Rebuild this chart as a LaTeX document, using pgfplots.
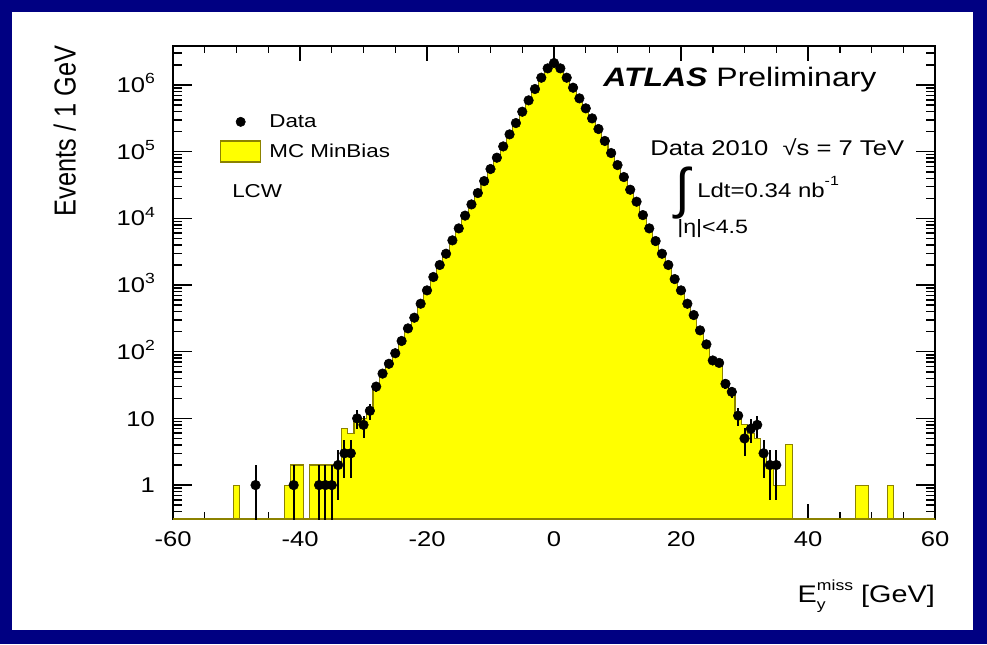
\documentclass[border=0pt]{standalone}
\usepackage{fontspec}
\setmainfont{Liberation Sans}[FakeStretch=1.2]
\newfontfamily\plainfont{Liberation Sans}
\usepackage{graphicx}
\usepackage{pgfplots}
\pgfplotsset{compat=1.18}
\usepackage{pgfplotstable}
\definecolor{navyb}{RGB}{0,0,130}
\definecolor{mcfill}{RGB}{255,255,0}
\definecolor{mcline}{RGB}{140,130,0}

% MC MinBias histogram: left bin edge, content (1e-3 = empty bin)
\pgfplotstableread{
x y
-60.5 1e-3
-50.5 1
-49.5 1e-3
-42.5 1
-41.5 2
-40.5 2
-39.5 1e-3
-38.5 2
-37.5 2
-36.5 2
-35.5 2
-34.5 2
-33.5 7
-32.5 6
-31.5 9
-30.5 10
-29.5 14
-28.5 30
-27.5 47
-26.5 66
-25.5 95
-24.5 145
-23.5 224
-22.5 324
-21.5 525
-20.5 832
-19.5 1320
-18.5 2000
-17.5 2950
-16.5 4680
-15.5 7080
-14.5 11000
-13.5 16200
-12.5 24000
-11.5 36300
-10.5 55000
-9.5 81300
-8.5 120000
-7.5 182000
-6.5 269000
-5.5 398000
-4.5 589000
-3.5 871000
-2.5 1288000
-1.5 1778000
-0.5 2138000
0.5 1778000
1.5 1288000
2.5 912000
3.5 631000
4.5 447000
5.5 316000
6.5 219000
7.5 145000
8.5 95500
9.5 63100
10.5 41700
11.5 26900
12.5 17800
13.5 11200
14.5 7080
15.5 4570
16.5 2950
17.5 2000
18.5 1230
19.5 832
20.5 525
21.5 355
22.5 209
23.5 129
24.5 74
25.5 68
26.5 33
27.5 25
28.5 12
29.5 8
30.5 6
31.5 5
32.5 3
33.5 2
34.5 1
35.5 1
36.5 4
37.5 1e-3
47.5 1
48.5 1
49.5 1e-3
52.5 1
53.5 1e-3
60.5 1e-3
}\mcdata

% Data: bin centre, events, error up, error down
\pgfplotstableread{
x y ep em
-47 1 1 0.999
-41 1 1 0.999
-37 1 1 0.999
-36 1 1 0.999
-35 1 1 0.999
-34 2 1.41 1.41
-33 3 1.73 1.73
-32 3 1.73 1.73
-31 10 3.16 3.16
-30 8 2.83 2.83
-29 13 3.61 3.61
-28 30 5.48 5.48
-27 47 6.86 6.86
-26 66 8.12 8.12
-25 95 9.75 9.75
-24 145 0 0
-23 224 0 0
-22 324 0 0
-21 525 0 0
-20 832 0 0
-19 1320 0 0
-18 2000 0 0
-17 2950 0 0
-16 4680 0 0
-15 7080 0 0
-14 11000 0 0
-13 16200 0 0
-12 24000 0 0
-11 36300 0 0
-10 55000 0 0
-9 81300 0 0
-8 120000 0 0
-7 182000 0 0
-6 269000 0 0
-5 398000 0 0
-4 589000 0 0
-3 871000 0 0
-2 1288000 0 0
-1 1778000 0 0
0 2138000 0 0
1 1778000 0 0
2 1288000 0 0
3 912000 0 0
4 631000 0 0
5 447000 0 0
6 316000 0 0
7 219000 0 0
8 145000 0 0
9 95500 0 0
10 63100 0 0
11 41700 0 0
12 26900 0 0
13 17800 0 0
14 11200 0 0
15 7080 0 0
16 4570 0 0
17 2950 0 0
18 2000 0 0
19 1230 0 0
20 832 0 0
21 525 0 0
22 355 0 0
23 209 0 0
24 129 0 0
25 74 8.6 8.6
26 68 8.25 8.25
27 33 5.74 5.74
28 25 5 5
29 11 3.32 3.32
30 5 2.24 2.24
31 7 2.65 2.65
32 8 2.83 2.83
33 3 1.73 1.73
34 2 1.41 1.41
35 2 1.41 1.41
}\datatab

\newcommand{\tp}[1]{10\raisebox{0.42em}{\fontsize{11}{11}\selectfont #1}}

\begin{document}
\begin{tikzpicture}
\path[use as bounding box] (0,0) rectangle (740.25pt,483pt);
\fill[navyb] (0,0) rectangle (740.25pt,483pt);
\fill[white] (9pt,10.5pt) rectangle (729.75pt,474pt);
\begin{axis}[
  at={(129.75pt,93.75pt)}, anchor=south west,
  width=571.5pt, height=354.75pt, scale only axis,
  xmin=-60, xmax=60,
  ymode=log, ymin=0.31, ymax=3.85e6,
  log origin y=infty,
  /pgf/number format/assume math mode=true,
  axis line style={line width=1.4pt},
  every tick/.style={line width=1.1pt, black},
  xtick pos=both, ytick pos=both,
  xticklabel pos=lower, yticklabel pos=left,
  tick align=inside,
  xtick={-60,-40,-20,0,20,40,60},
  xticklabels={-60,-40,-20,0,20,40,60},
  minor x tick num=3,
  xtick style={/pgfplots/major tick length=11pt,/pgfplots/minor tick length=5pt},
  ytick={1,10,100,1000,10000,100000,1000000},
  yticklabels={1,10,\tp{2},\tp{3},\tp{4},\tp{5},\tp{6}},
  minor ytick={0.4,0.5,0.6,0.7,0.8,0.9,2,3,4,5,6,7,8,9,20,30,40,50,60,70,80,90,200,300,400,500,600,700,800,900,2000,3000,4000,5000,6000,7000,8000,9000,20000,30000,40000,50000,60000,70000,80000,90000,200000,300000,400000,500000,600000,700000,800000,900000,2000000,3000000},
  ytick style={/pgfplots/major tick length=14pt,/pgfplots/minor tick length=7pt},
  xticklabel style={font=\fontsize{16}{16}\selectfont, yshift=-6pt},
  yticklabel style={font=\fontsize{16}{16}\selectfont, anchor=base east, yshift=-5.7pt, xshift=-10pt},
  xlabel={E\rlap{\raisebox{-0.3em}{\fontsize{11}{11}\selectfont y}}\raisebox{0.5em}{\fontsize{11}{11}\selectfont miss}\ [GeV]},
  xlabel style={font=\fontsize{18}{18}\selectfont, at={(axis description cs:1,-0.177)}, anchor=base east, inner sep=0pt},
  ylabel={\scalebox{1}[1.2]{\plainfont\fontsize{19}{19}\selectfont Events / 1 GeV}},
  ylabel style={at={(axis description cs:-0.142,0.82)}, anchor=center, inner sep=0pt},
  legend style={at={(axis description cs:0.0617,0.8622)}, anchor=north west, draw=none, fill=none,
    inner sep=0pt, outer sep=0pt, row sep=5.75pt, column sep=6pt,
    font=\fontsize{14}{14}\selectfont, nodes={inner sep=0pt}},
  legend cell align=left,
]
\addlegendimage{legend image code/.code={\fill[black] (15pt,0pt) circle (3.5pt); \path[draw=none,fill=none] (0pt,-8pt) rectangle (30pt,8pt);}}
\addlegendentry{Data}
\addlegendimage{legend image code/.code={\draw[fill=mcfill, draw=mcline, line width=1pt] (0pt,-7.9pt) rectangle (30pt,7.9pt);}}
\addlegendentry{MC MinBias}

\addplot[const plot mark left, fill=mcfill, draw=mcline, line width=0.8pt, forget plot]
  table[x=x, y=y] {\mcdata} \closedcycle;

\addplot[only marks, mark=*, mark size=3.6pt, black, mark options={fill=black}, forget plot,
  error bars/.cd, y dir=both, y explicit, error mark=none,
  error bar style={line width=1.5pt, black}]
  table[x=x, y=y, y error plus=ep, y error minus=em] {\datatab};
\end{axis}

\begin{scope}[x=0.75pt, y=0.75pt]
\node[anchor=base west, inner sep=0pt] at (603,557) {\fontsize{20}{20}\selectfont\textbf{\textit{ATLAS}} Preliminary};
\node[anchor=base west, inner sep=0pt] at (650,489) {\fontsize{16}{16}\selectfont Data 2010\ \ √s = 7 TeV};
\node[anchor=center, inner sep=0pt] at (683,451) {\scalebox{1.1}[1.15]{\plainfont\fontsize{36}{36}\selectfont ∫}};
\node[anchor=base west, inner sep=0pt] at (697,447) {\fontsize{15}{15}\selectfont Ldt=0.34 nb\raisebox{0.6em}{\fontsize{10}{10}\selectfont -1}};
\node[anchor=base west, inner sep=0pt] at (677,411) {\fontsize{14.5}{14.5}\selectfont |η|<4.5};
\node[anchor=base west, inner sep=0pt] at (232,447) {\fontsize{14}{14}\selectfont LCW};
\end{scope}
\end{tikzpicture}
\end{document}
